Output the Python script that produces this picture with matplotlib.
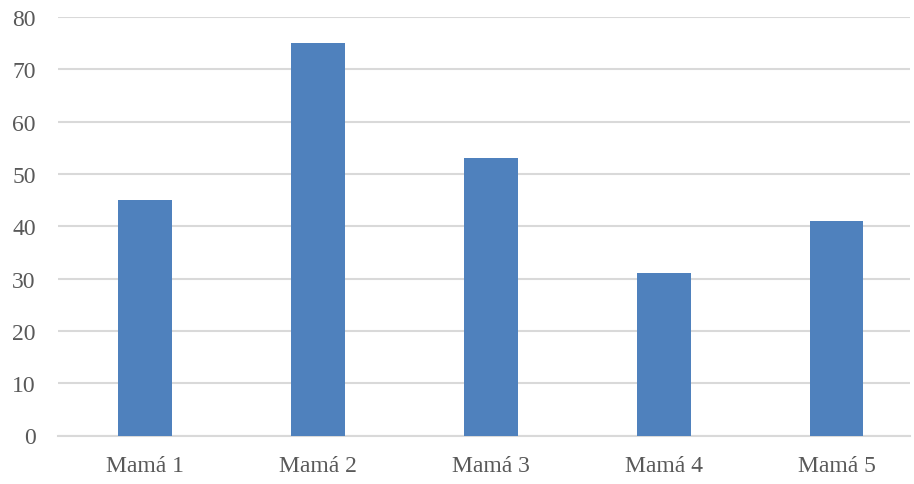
import matplotlib.pyplot as plt

# datos
categorias = ['Mamá 1', 'Mamá 2', 'Mamá 3', 'Mamá 4', 'Mamá 5']
valores = [45, 75, 53, 31, 41]

plt.rcParams['font.family'] = ['Liberation Serif', 'DejaVu Serif']

fig = plt.figure(figsize=(9.14, 4.85), dpi=100)
ax = fig.add_axes([58 / 914, 1 - 436.5 / 485, (910 - 58) / 914, (436.5 - 18) / 485])

x = range(len(categorias))
ax.bar(x, valores, width=0.31, color='#4F81BD', zorder=3)

ax.set_ylim(0, 80)
ax.set_xlim(-0.503, 4.424)
ax.set_yticks(range(0, 81, 10))
ax.set_xticks(list(x))
ax.set_xticklabels(categorias)
ax.yaxis.grid(True, color='#D9D9D9', linewidth=1.5, zorder=0)
ax.set_axisbelow(True)

for s in ['top', 'right', 'left']:
    ax.spines[s].set_visible(False)
ax.spines['bottom'].set_color('#D9D9D9')
ax.spines['bottom'].set_linewidth(1.5)

ax.tick_params(axis='both', length=0, labelsize=17, labelcolor='#595959')
ax.tick_params(axis='y', pad=16)
ax.tick_params(axis='x', pad=14)

fig.savefig('out.png', dpi=100)
